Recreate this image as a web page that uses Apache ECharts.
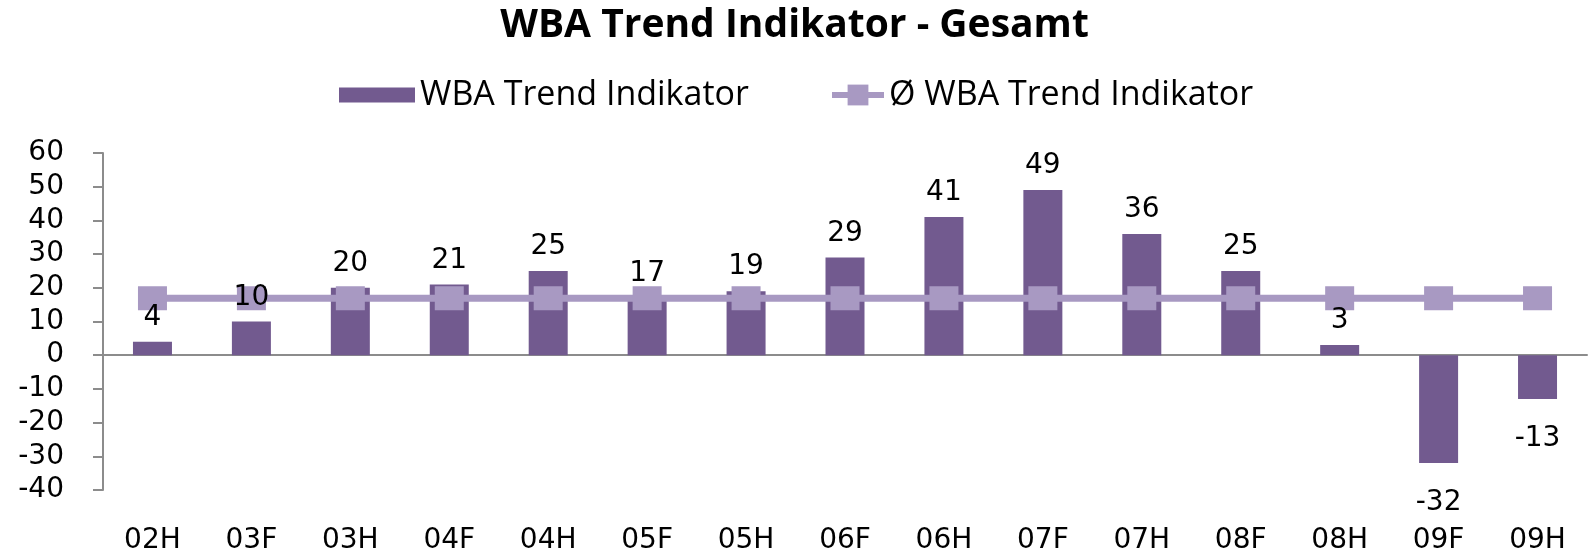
<!DOCTYPE html>
<html>
<head>
<meta charset="utf-8">
<script src="https://cdn.jsdelivr.net/npm/echarts@6/dist/echarts.min.js"></script>
<style>
  html, body { margin: 0; padding: 0; background: #fff; }
  #chart { width: 1589px; height: 554px; }
</style>
</head>
<body>
<div id="chart"></div>
<script>
const categories = ['02H', '03F', '03H', '04F', '04H', '05F', '05H', '06F', '06H', '07F', '07H', '08F', '08H', '09F', '09H']
const trendValues = [4, 10, 20, 21, 25, 17, 19, 29, 41, 49, 36, 25, 3, -32, -13]
const averageValues = [16.9, 16.9, 16.9, 16.9, 16.9, 16.9, 16.9, 16.9, 16.9, 16.9, 16.9, 16.9, 16.9, 16.9, 16.9]

const barColor = '#725a8f'
const lineColor = '#a899c2'
const axisColor = '#8c8c8c'
const axisFont = 'DejaVu Sans'

const chart = echarts.init(document.getElementById('chart'))

// labels sit on an invisible copy of the bars so they stay above the line
const labelData = trendValues.map(v => ({
  value: v,
  label: v < 0 ? { position: 'bottom', distance: 26 } : { position: 'top', distance: 10 }
}))

const option = {
  animation: false,
  title: {
    text: 'WBA Trend Indikator - Gesamt',
    left: 'center',
    top: 1,
    textStyle: { fontFamily: 'Open Sans', fontWeight: 'bold', fontSize: 39, color: '#000' }
  },
  legend: [
    {
      data: ['WBA Trend Indikator'],
      left: 334,
      top: 73,
      icon: 'rect',
      itemWidth: 76,
      itemHeight: 15,
      itemGap: 6,
      textStyle: { fontFamily: 'Open Sans', fontSize: 34, color: '#000' }
    },
    {
      data: ['Ø WBA Trend Indikator'],
      left: 824,
      top: 73,
      itemWidth: 52,
      itemHeight: 26,
      itemGap: 8,
      lineStyle: { width: 6 },
      textStyle: { fontFamily: 'Open Sans', fontSize: 34, color: '#000' }
    }
  ],
  grid: { left: 103, right: 2, top: 153, bottom: 64, outerBoundsMode: 'none' },
  xAxis: [
    {
      type: 'category',
      data: categories,
      axisLine: { onZero: true, lineStyle: { color: axisColor, width: 2 } },
      axisTick: { length: 9, lineStyle: { color: axisColor, width: 2 } },
      axisLabel: { show: false }
    },
    {
      type: 'category',
      data: categories,
      position: 'bottom',
      axisLine: { show: false, onZero: false },
      axisTick: { show: false },
      axisLabel: { margin: 37, fontFamily: axisFont, fontSize: 28, color: '#000' }
    }
  ],
  yAxis: {
    type: 'value',
    min: -40,
    max: 60,
    interval: 10,
    splitLine: { show: false },
    axisLine: { show: true, lineStyle: { color: axisColor, width: 2 } },
    axisTick: { show: true, length: 10, lineStyle: { color: axisColor, width: 2 } },
    axisLabel: { margin: 39, fontFamily: axisFont, fontSize: 28, color: '#000' }
  },
  series: [
    {
      name: 'WBA Trend Indikator',
      type: 'bar',
      data: trendValues,
      barWidth: 39,
      itemStyle: { color: barColor },
      z: 2
    },
    {
      name: 'Ø WBA Trend Indikator',
      type: 'line',
      data: averageValues,
      symbol: 'rect',
      symbolSize: [29, 24],
      itemStyle: { color: lineColor },
      lineStyle: { color: lineColor, width: 7 },
      z: 3
    },
    {
      name: 'labels',
      type: 'bar',
      data: labelData,
      barWidth: 39,
      barGap: '-100%',
      itemStyle: { color: 'rgba(0,0,0,0)' },
      label: {
        show: true,
        fontFamily: axisFont,
        fontSize: 28,
        color: '#000'
      },
      z: 4
    }
  ]
}

chart.setOption(option)
</script>
</body>
</html>
